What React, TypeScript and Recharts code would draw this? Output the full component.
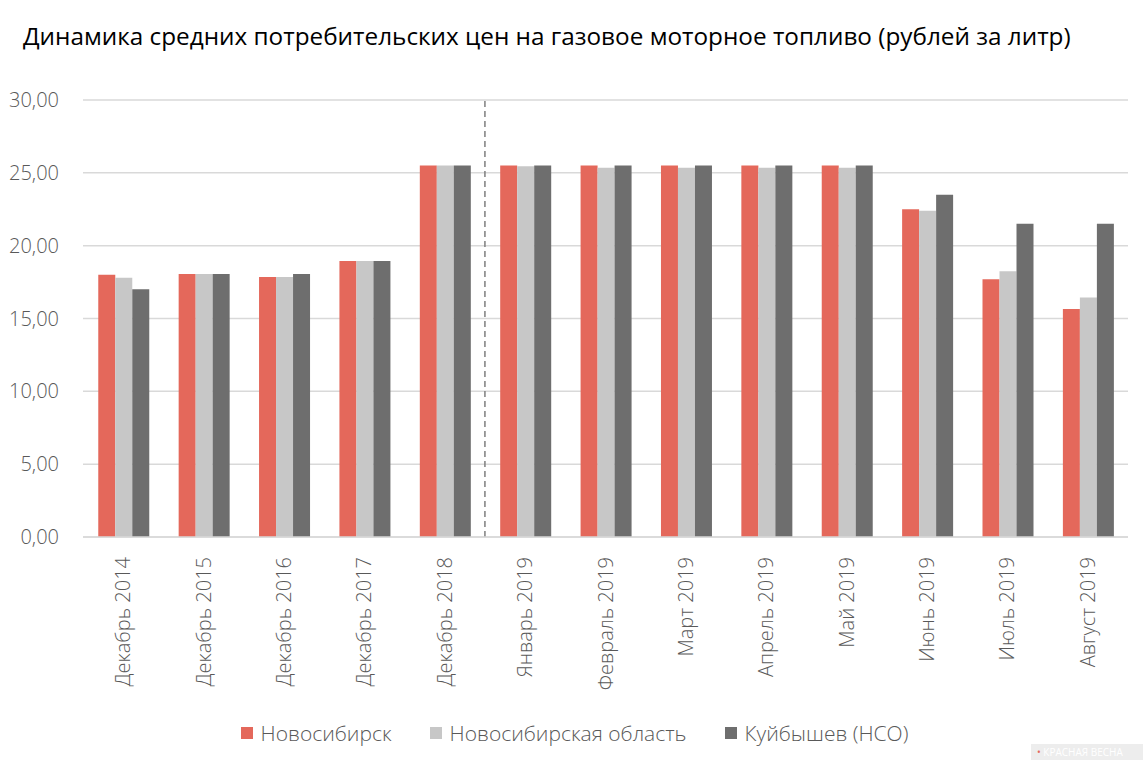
import { Bar, BarChart, CartesianGrid, Legend, ReferenceLine, XAxis, YAxis } from 'recharts';

// Average consumer prices for LPG motor fuel, rub/litre
const categories = [
  'Декабрь 2014',
  'Декабрь 2015',
  'Декабрь 2016',
  'Декабрь 2017',
  'Декабрь 2018',
  'Январь 2019',
  'Февраль 2019',
  'Март 2019',
  'Апрель 2019',
  'Май 2019',
  'Июнь 2019',
  'Июль 2019',
  'Август 2019',
];
const novosibirsk = [18.0, 18.05, 17.85, 18.95, 25.5, 25.5, 25.5, 25.5, 25.5, 25.5, 22.5, 17.7, 15.65];
const oblast = [17.8, 18.05, 17.85, 18.95, 25.5, 25.45, 25.35, 25.35, 25.35, 25.35, 22.4, 18.25, 16.45];
const kuybyshev = [17.0, 18.05, 18.05, 18.95, 25.5, 25.5, 25.5, 25.5, 25.5, 25.5, 23.5, 21.5, 21.5];
const yTicks = [0, 5, 10, 15, 20, 25, 30];

const series = [
  { key: 'novosibirsk', name: 'Новосибирск', color: '#E4685B' },
  { key: 'oblast', name: 'Новосибирская область', color: '#C7C7C7' },
  { key: 'kuybyshev', name: 'Куйбышев (НСО)', color: '#6E6E6E' },
];

const data = categories.map((name, i) => ({
  name,
  novosibirsk: novosibirsk[i],
  oblast: oblast[i],
  kuybyshev: kuybyshev[i],
}));

const FONT = '"Open Sans", "Noto Sans", sans-serif';
const fmt = (v: number) => v.toFixed(2).replace('.', ',');

function RotatedTick({ x, y, payload }: any) {
  return (
    <g transform={`translate(${x},${y + 12})`}>
      <text
        x={0}
        y={0}
        dy="0.35em"
        transform="rotate(-90)"
        textAnchor="end"
        fill="#595959"
        fontSize={20}
        fontWeight={300}
        fontFamily={FONT}
      >
        {payload.value}
      </text>
    </g>
  );
}

function LegendRow() {
  return (
    <div
      style={{
        display: 'flex',
        justifyContent: 'center',
        gap: 38,
        fontFamily: FONT,
        fontSize: 21,
        fontWeight: 300,
        color: '#595959',
        paddingLeft: 21,
        marginTop: 1,
      }}
    >
      {series.map((s) => (
        <div key={s.key} style={{ display: 'flex', alignItems: 'center' }}>
          <span style={{ width: 12, height: 12, background: s.color, marginRight: 8, display: 'inline-block' }} />
          {s.name}
        </div>
      ))}
    </div>
  );
}

export default function App() {
  return (
    <div style={{ position: 'absolute', left: 0, top: 0, width: 1143, height: 760, background: '#fff' }}>
      <div
        style={{
          position: 'absolute',
          left: 23,
          top: 19,
          fontFamily: FONT,
          fontSize: 24.3,
          color: '#000',
          whiteSpace: 'nowrap',
        }}
      >
        Динамика средних потребительских цен на газовое моторное топливо (рублей за литр)
      </div>
      <BarChart
        width={1143}
        height={760}
        data={data}
        margin={{ top: 100, right: 15, bottom: 12, left: 0 }}
        barCategoryGap="19%"
        barGap={0}
      >
        <CartesianGrid vertical={false} stroke="#D9D9D9" strokeWidth={1.5} />
        <YAxis
          width={83}
          domain={[0, 30]}
          ticks={yTicks}
          tickFormatter={fmt}
          axisLine={false}
          tickLine={false}
          tickMargin={18}
          tick={{ fill: '#595959', fontSize: 20, fontWeight: 300, fontFamily: FONT }}
        />
        <XAxis
          dataKey="name"
          height={181}
          interval={0}
          axisLine={{ stroke: '#D9D9D9', strokeWidth: 1.5 }}
          tickLine={false}
          tick={<RotatedTick />}
        />
        <ReferenceLine
          x="Январь 2019"
          position="start"
          stroke="#7F7F7F"
          strokeWidth={1.5}
          strokeDasharray="6 4"
        />
        {series.map((s) => (
          <Bar key={s.key} dataKey={s.key} name={s.name} fill={s.color} isAnimationActive={false} />
        ))}
        <Legend verticalAlign="bottom" height={30} content={() => <LegendRow />} />
      </BarChart>
      <div
        style={{
          position: 'absolute',
          right: 0,
          bottom: 0,
          width: 112,
          height: 16,
          background: '#EDEDED',
          color: '#FFFFFF',
          fontFamily: FONT,
          fontSize: 10,
          lineHeight: '16px',
          paddingLeft: 6,
          boxSizing: 'border-box',
          whiteSpace: 'nowrap',
        }}
      >
        <span style={{ color: '#E4685B' }}>• </span>КРАСНАЯ ВЕСНА
      </div>
    </div>
  );
}
